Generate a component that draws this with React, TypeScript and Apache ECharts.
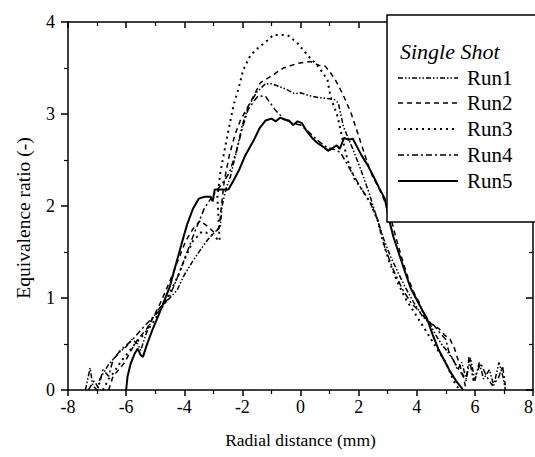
import React, { useEffect, useRef } from "react";
import * as echarts from "echarts";

const xTicks = [-8, -6, -4, -2, 0, 2, 4, 6, 8];
const yTicks = [0, 1, 2, 3, 4];
const seriesNames = ["Run1", "Run2", "Run3", "Run4", "Run5"];
const legendTitle = "Single Shot";
const xTitle = "Radial distance (mm)";
const yTitle = "Equivalence ratio (-)";

const run1: [number, number][] = [
  [-7.4, 0.0], [-7.3, 0.15], [-7.24, 0.24], [-7.15, 0.05], [-7.0, 0.0], [-6.9, 0.12], [-6.75, 0.2],
  [-6.6, 0.28], [-6.4, 0.35], [-6.2, 0.42], [-6.0, 0.47], [-5.8, 0.55], [-5.6, 0.5], [-5.5, 0.43],
  [-5.3, 0.62], [-5.1, 0.78], [-4.83, 0.9], [-4.6, 0.97], [-4.4, 1.03], [-4.24, 1.09], [-4.0, 1.25],
  [-3.69, 1.41], [-3.45, 1.52], [-3.2, 1.63], [-3.0, 1.7], [-2.76, 1.77], [-2.7, 2.0], [-2.55, 2.2],
  [-2.41, 2.32], [-2.2, 2.6], [-2.0, 2.88], [-1.8, 3.08], [-1.5, 3.24], [-1.2, 3.33], [-1.0, 3.33],
  [-0.75, 3.3], [-0.5, 3.27], [-0.2, 3.22], [0.0, 3.23], [0.3, 3.2], [0.6, 3.18], [0.9, 3.17],
  [1.15, 3.16], [1.3, 3.12], [1.48, 2.86], [1.8, 2.62], [2.07, 2.4], [2.35, 2.15], [2.6, 1.9],
  [2.85, 1.65], [3.1, 1.45], [3.35, 1.28], [3.6, 1.12], [3.9, 0.95], [4.2, 0.8], [4.45, 0.72],
  [4.65, 0.6], [4.85, 0.5], [5.05, 0.42], [5.25, 0.33], [5.4, 0.22], [5.55, 0.3], [5.7, 0.12],
  [5.85, 0.35], [6.0, 0.1], [6.15, 0.3], [6.3, 0.12], [6.5, 0.22], [6.65, 0.05], [6.83, 0.3],
  [6.97, 0.14], [7.05, 0.0],
];

const run2: [number, number][] = [
  [-6.6, 0.0], [-6.45, 0.15], [-6.25, 0.22], [-6.05, 0.3], [-5.85, 0.42], [-5.6, 0.55],
  [-5.3, 0.66], [-5.05, 0.8], [-4.8, 0.96], [-4.5, 1.18], [-4.2, 1.42], [-3.95, 1.62],
  [-3.7, 1.75], [-3.45, 1.84], [-3.2, 1.78], [-3.0, 1.72], [-2.8, 1.76], [-2.72, 2.0],
  [-2.62, 2.28], [-2.45, 2.55], [-2.25, 2.78], [-2.07, 2.93], [-1.72, 3.13], [-1.38, 3.34],
  [-0.97, 3.42], [-0.59, 3.5], [-0.1, 3.55], [0.34, 3.57], [0.63, 3.53], [0.85, 3.52],
  [1.05, 3.44], [1.2, 3.37], [1.4, 3.25], [1.55, 3.15], [1.75, 3.0], [1.97, 2.79],
  [2.24, 2.53], [2.48, 2.32], [2.69, 2.2], [2.9, 2.05], [3.1, 1.88], [3.28, 1.66],
  [3.5, 1.42], [3.7, 1.22], [3.9, 1.06], [4.14, 0.92], [4.24, 0.8], [4.5, 0.72],
  [4.75, 0.67], [4.95, 0.6], [5.15, 0.55], [5.3, 0.45], [5.45, 0.3], [5.6, 0.15], [5.7, 0.0],
];

const run3: [number, number][] = [
  [-6.8, 0.0], [-6.6, 0.12], [-6.4, 0.2], [-6.2, 0.3], [-6.0, 0.38], [-5.7, 0.5], [-5.4, 0.6],
  [-5.1, 0.72], [-4.8, 0.88], [-4.5, 1.05], [-4.2, 1.25], [-3.95, 1.45], [-3.7, 1.62],
  [-3.4, 1.72], [-3.1, 1.7], [-2.78, 1.62], [-2.82, 1.85], [-2.86, 2.1], [-2.76, 2.36],
  [-2.5, 2.79], [-2.3, 3.1], [-2.13, 3.28], [-1.97, 3.48], [-1.72, 3.64], [-1.45, 3.72],
  [-1.14, 3.8], [-0.93, 3.86], [-0.6, 3.86], [-0.41, 3.85], [-0.1, 3.77], [0.24, 3.64],
  [0.63, 3.51], [0.93, 3.37], [1.03, 3.19], [1.28, 2.97], [1.45, 2.72], [1.62, 2.5],
  [1.85, 2.3], [2.07, 2.2], [2.41, 2.03], [2.65, 1.85], [2.85, 1.6], [3.05, 1.4], [3.3, 1.2],
  [3.6, 1.0], [3.9, 0.85], [4.2, 0.7], [4.5, 0.55], [4.75, 0.42], [5.0, 0.3], [5.2, 0.15],
  [5.35, 0.05], [5.5, 0.0],
];

const run4: [number, number][] = [
  [-7.3, 0.0], [-7.1, 0.1], [-6.95, 0.02], [-6.8, 0.22], [-6.6, 0.15], [-6.45, 0.33],
  [-6.2, 0.43], [-5.8, 0.54], [-5.5, 0.65], [-5.17, 0.76], [-4.83, 0.87], [-4.5, 1.02],
  [-4.2, 1.25], [-3.9, 1.5], [-3.6, 1.75], [-3.3, 1.98], [-3.0, 2.12], [-2.7, 2.24],
  [-2.45, 2.36], [-2.2, 2.6], [-2.0, 2.85], [-1.8, 3.05], [-1.6, 3.14], [-1.45, 3.2],
  [-1.2, 3.19], [-0.86, 3.04], [-0.58, 2.95], [-0.3, 2.9], [0.0, 2.88], [0.3, 2.8],
  [0.6, 2.71], [0.9, 2.64], [1.2, 2.61], [1.38, 2.58], [1.72, 2.39], [2.07, 2.2],
  [2.41, 2.03], [2.65, 1.85], [2.9, 1.55], [3.2, 1.3], [3.5, 1.1], [3.8, 0.95], [4.1, 0.85],
  [4.4, 0.75], [4.6, 0.7], [4.8, 0.62], [5.0, 0.55], [5.1, 0.42], [5.3, 0.3], [5.5, 0.2],
  [5.7, 0.1], [5.8, 0.36], [5.95, 0.1], [6.2, 0.29], [6.4, 0.15], [6.6, 0.05], [6.8, 0.12],
  [6.95, 0.26], [7.05, 0.05],
];

const run5: [number, number][] = [
  [-6.0, 0.0], [-5.95, 0.15], [-5.85, 0.28], [-5.7, 0.4], [-5.6, 0.45], [-5.5, 0.38],
  [-5.42, 0.36], [-5.3, 0.48], [-5.1, 0.65], [-4.9, 0.8], [-4.7, 0.96], [-4.5, 1.12],
  [-4.3, 1.35], [-4.1, 1.58], [-3.9, 1.8], [-3.7, 1.97], [-3.5, 2.08], [-3.3, 2.1],
  [-3.1, 2.1], [-3.02, 2.05], [-2.95, 2.18], [-2.7, 2.18], [-2.48, 2.18], [-2.3, 2.28],
  [-2.1, 2.4], [-1.9, 2.55], [-1.6, 2.72], [-1.4, 2.85], [-1.2, 2.93], [-1.0, 2.95],
  [-0.85, 2.92], [-0.7, 2.96], [-0.55, 2.94], [-0.4, 2.93], [-0.25, 2.88], [-0.1, 2.92],
  [0.05, 2.9], [0.2, 2.82], [0.4, 2.74], [0.6, 2.68], [0.8, 2.64], [0.95, 2.6], [1.1, 2.63],
  [1.25, 2.66], [1.35, 2.62], [1.5, 2.74], [1.65, 2.72], [1.8, 2.73], [1.95, 2.64],
  [2.1, 2.55], [2.3, 2.45], [2.5, 2.33], [2.7, 2.2], [2.9, 2.08], [3.05, 1.85], [3.2, 1.66],
  [3.4, 1.47], [3.6, 1.28], [3.8, 1.1], [4.0, 0.98], [4.2, 0.86], [4.35, 0.78], [4.55, 0.6],
  [4.75, 0.44], [4.95, 0.32], [5.15, 0.2], [5.35, 0.1], [5.5, 0.04], [5.6, 0.0],
];

const runData = [run1, run2, run3, run4, run5];
const dashTypes: (number[] | "solid")[] = [[5, 2, 1.5, 2, 1.5, 2], [5, 4], [2, 4], [6, 3, 2, 3], "solid"];
const lineWidths = [1.5, 1.5, 2, 1.5, 2];

const FONT = "Liberation Serif";

export default function App() {
  const ref = useRef<HTMLDivElement>(null);
  useEffect(() => {
    if (!ref.current) return;
    const chart = echarts.init(ref.current, null, { renderer: "svg" });
    const gridLeft = 68, gridTop = 22, gridRight = 2, gridBottom = 67;

    const legendX = 387, legendY = 15;
    const legendRows = [78, 103, 129, 155, 181];
    const graphics: any[] = [
      {
        type: "text",
        z: 50,
        x: 23,
        y: 218,
        rotation: Math.PI / 2,
        style: {
          text: yTitle,
          fontFamily: FONT,
          fontSize: 19.5,
          fill: "#000",
          align: "center",
          verticalAlign: "middle",
        },
      },
      {
        type: "rect",
        z: 100,
        shape: { x: legendX, y: legendY, width: 165, height: 207 },
        style: { fill: "#fff", stroke: "#000", lineWidth: 1.5 },
      },
      {
        type: "text",
        z: 101,
        x: 400,
        y: 51,
        style: {
          text: legendTitle,
          fontFamily: FONT,
          fontSize: 22,
          fontStyle: "italic",
          fill: "#000",
          verticalAlign: "middle",
        },
      },
    ];
    seriesNames.forEach((name, i) => {
      const dash = dashTypes[i];
      graphics.push({
        type: "line",
        z: 101,
        shape: { x1: 398, y1: legendRows[i], x2: 458, y2: legendRows[i] },
        style: {
          stroke: "#000",
          lineWidth: lineWidths[i],
          lineDash: dash === "solid" ? null : dash,
        },
      });
      graphics.push({
        type: "text",
        z: 101,
        x: 467,
        y: legendRows[i],
        style: {
          text: name,
          fontFamily: FONT,
          fontSize: 21,
          fill: "#000",
          verticalAlign: "middle",
        },
      });
    });

    const axisLine = { show: true, onZero: false, lineStyle: { color: "#000", width: 1.5 } };
    chart.setOption({
      animation: false,
      backgroundColor: "#fff",
      textStyle: { fontFamily: FONT },
      grid: {
        left: gridLeft,
        top: gridTop,
        right: gridRight,
        bottom: gridBottom,
        containLabel: false,
        outerBoundsMode: "none",
      },
      xAxis: [
        {
          type: "value",
          min: xTicks[0],
          max: xTicks[xTicks.length - 1],
          interval: 2,
          position: "bottom",
          axisLine,
          axisTick: { show: true, inside: false, length: 6, lineStyle: { color: "#000", width: 1.5 } },
          minorTick: { show: true, splitNumber: 2, length: 4, lineStyle: { color: "#000", width: 1.2 } },
          splitLine: { show: false },
          axisLabel: {
            color: "#000",
            fontFamily: FONT,
            fontSize: 18,
            margin: 8,
            showMinLabel: true,
            showMaxLabel: true,
            alignMaxLabel: "right",
          },
          name: xTitle,
          nameLocation: "middle",
          nameGap: 41,
          nameTextStyle: { color: "#000", fontFamily: FONT, fontSize: 17.5 },
        },
        {
          type: "value",
          min: xTicks[0],
          max: xTicks[xTicks.length - 1],
          interval: 2,
          position: "top",
          axisLine,
          axisTick: { show: true, inside: true, length: 6, lineStyle: { color: "#000", width: 1.5 } },
          minorTick: { show: true, splitNumber: 2, length: 4, lineStyle: { color: "#000", width: 1.2 } },
          splitLine: { show: false },
          axisLabel: { show: false },
        },
      ],
      yAxis: [
        {
          type: "value",
          min: yTicks[0],
          max: yTicks[yTicks.length - 1],
          interval: 1,
          position: "left",
          axisLine,
          axisTick: { show: true, inside: false, length: 7, lineStyle: { color: "#000", width: 1.5 } },
          minorTick: { show: true, splitNumber: 2, length: 4, lineStyle: { color: "#000", width: 1.2 } },
          splitLine: { show: false },
          axisLabel: { color: "#000", fontFamily: FONT, fontSize: 18, margin: 13 },
        },
        {
          type: "value",
          min: yTicks[0],
          max: yTicks[yTicks.length - 1],
          interval: 1,
          position: "right",
          axisLine,
          axisTick: { show: true, inside: true, length: 7, lineStyle: { color: "#000", width: 1.5 } },
          minorTick: { show: true, splitNumber: 2, length: 4, lineStyle: { color: "#000", width: 1.2 } },
          splitLine: { show: false },
          axisLabel: { show: false },
        },
      ],
      series: seriesNames.map((name, i) => ({
        name,
        type: "line",
        xAxisIndex: 0,
        yAxisIndex: 0,
        data: runData[i],
        showSymbol: false,
        symbol: "none",
        clip: true,
        lineStyle: { color: "#000", width: lineWidths[i], type: dashTypes[i] },
        z: 2 + i,
      })),
      graphic: graphics,
    });
    return () => chart.dispose();
  }, []);
  return (
    <div
      ref={ref}
      style={{ position: "fixed", left: 0, top: 0, width: 535, height: 457, overflow: "hidden" }}
    />
  );
}
